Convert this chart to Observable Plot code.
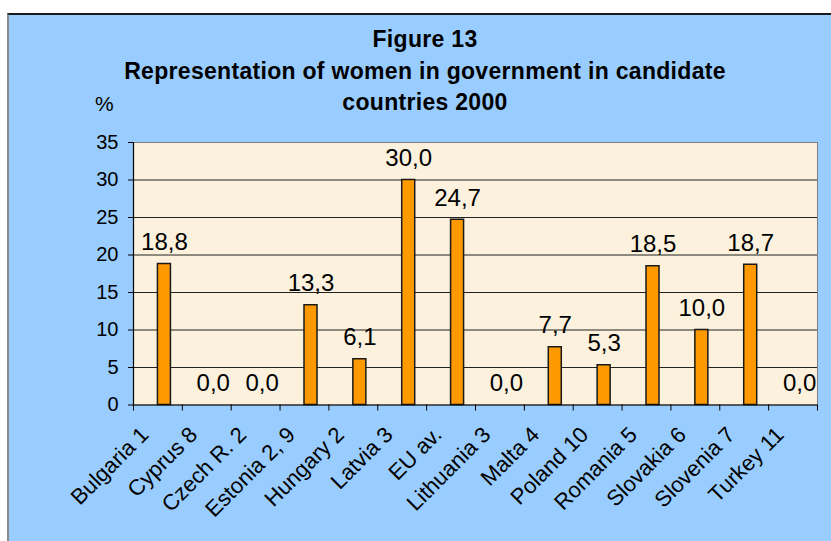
<!DOCTYPE html>
<html>
<head>
<meta charset="utf-8">
<script src="https://cdn.jsdelivr.net/npm/d3@7"></script>
<script src="https://cdn.jsdelivr.net/npm/@observablehq/plot@0.6"></script>
<style>
  html, body { margin: 0; padding: 0; background: #ffffff; }
  #wrap { position: relative; width: 831px; height: 541px; overflow: hidden; background: #ffffff;
          font-family: Arial, "Liberation Sans", sans-serif; }
  #bg { position: absolute; left: 7px; top: 13px; width: 840px; height: 540px; background: #99CCFF;
        border-top: 2px solid #1a1a1a; border-left: 2px solid #8a8a8a; }
  #title { position: absolute; left: 0; top: 24px; width: 850px; text-align: center;
           font-weight: bold; font-size: 23px; line-height: 31.5px; color: #000; letter-spacing: 0.3px; }
  #pct { position: absolute; left: 95px; top: 93px; font-size: 21px; line-height: 21px; color: #000; }
  #plot { position: absolute; left: 0; top: 120px; }
</style>
</head>
<body>
<div id="wrap">
  <div id="bg"></div>
  <div id="title">Figure 13<br>Representation of women in government in candidate<br>countries 2000</div>
  <div id="pct">%</div>
  <div id="plot"></div>
</div>
<script>
const categories = ["Bulgaria 1", "Cyprus 8", "Czech R. 2", "Estonia 2, 9", "Hungary 2", "Latvia 3", "EU av.",
  "Lithuania 3", "Malta 4", "Poland 10", "Romania 5", "Slovakia 6", "Slovenia 7", "Turkey 11"];
const values = [18.8, 0.0, 0.0, 13.3, 6.1, 30.0, 24.7, 0.0, 7.7, 5.3, 18.5, 10.0, 18.7, 0.0];
const yTicks = [0, 5, 10, 15, 20, 25, 30, 35];

const data = categories.map((c, i) => ({country: c, value: values[i]}));
const fmt = v => d3.format(".1f")(v).replace(".", ",");

const W = 831, H = 421, mL = 133, mR = 14, mT = 22, mB = 136.5;
const bw = (W - mL - mR) / categories.length;
const barW = 13;

const chart = Plot.plot({
  width: W, height: H,
  marginTop: mT, marginBottom: mB, marginLeft: mL, marginRight: mR,
  style: {background: "transparent", fontFamily: "Arial, 'Liberation Sans', sans-serif", color: "#000", overflow: "visible"},
  x: {type: "band", domain: categories, padding: 0, round: false, axis: null},
  y: {domain: [0, 35], axis: null},
  marks: [
    Plot.frame({fill: "#FBF1DD", stroke: "#808080"}),
    Plot.ruleY(yTicks.filter(t => t > 0 && t < 35), {stroke: "#222", strokeWidth: 1}),
    Plot.barY(data, {x: "country", y: "value", fill: "#FF9900", stroke: "#1a1a1a", strokeWidth: 1.5,
      insetLeft: bw / 2, insetRight: bw / 2 - barW}),
    Plot.text(data, {x: "country", y: "value", text: d => fmt(d.value), dx: barW / 2, dy: -14,
      lineAnchor: "bottom", fontSize: 24, fill: "#000"}),
    Plot.ruleY([0], {stroke: "#000", strokeWidth: 1.2}),
    Plot.ruleX([categories[0]], {x: d => d, dx: -bw / 2, stroke: "#000", strokeWidth: 1.2}),
    Plot.axisY(yTicks, {anchor: "left", tickSize: 5, tickPadding: 10, fontSize: 20, tickFormat: d => String(d), label: null, stroke: "#000"}),
    Plot.axisX(categories, {anchor: "bottom", tickSize: 6, dx: -bw / 2, tickFormat: () => "", label: null, stroke: "#000"}),
    Plot.axisX([categories[categories.length - 1]], {anchor: "bottom", tickSize: 6, dx: bw / 2, tickFormat: () => "", label: null, stroke: "#000"}),
    Plot.text(categories, {x: d => d, frameAnchor: "bottom", rotate: -45, textAnchor: "end", lineAnchor: "middle",
      dx: -13, dy: 26, fontSize: 22, fill: "#000"})
  ]
});
document.getElementById("plot").appendChild(chart);
</script>
</body>
</html>
